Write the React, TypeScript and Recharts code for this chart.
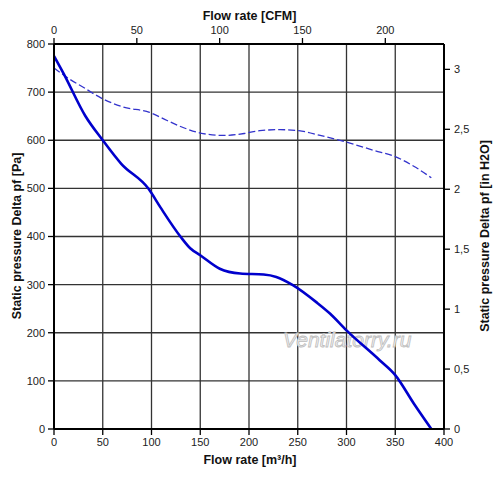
import React from 'react';
import { ComposedChart, Line, XAxis, YAxis, CartesianGrid, Customized } from 'recharts';

const flowTicks = [0, 50, 100, 150, 200, 250, 300, 350, 400];
const cfmTicks = [0, 50, 100, 150, 200];
const paTicks = [0, 100, 200, 300, 400, 500, 600, 700, 800];
const inH2OTicks = [0, 0.5, 1, 1.5, 2, 2.5, 3];

const solidFlow = [0, 10, 32, 50, 69, 97, 109, 130, 140, 150, 170, 191, 215, 228, 245, 270, 283, 300, 334, 350, 369, 387];
const solidPressure = [775, 738, 651, 600, 551, 499, 461, 399, 375, 361, 333, 323, 321, 316, 299, 262, 240, 205, 143, 112, 53, 0];

const dashFlow = [0, 16, 30, 50, 71, 98, 116, 133, 150, 174, 195, 211, 232, 251, 273, 300, 328, 350, 369, 387];
const dashPressure = [750, 727, 710, 686, 669, 658, 641, 626, 615, 610, 614, 620, 622, 620, 610, 596, 579, 566, 546, 522];

const solidData = solidFlow.map((f, i) => ({ flow: f, p: solidPressure[i] }));
const dashData = dashFlow.map((f, i) => ({ flow: f, p: dashPressure[i] }));

const FONT = 'Arial, "Liberation Sans", Helvetica, sans-serif';
const tickStyle = { fontSize: 11, fill: '#222', fontFamily: FONT };

const Titles = () => (
  <g fontFamily={FONT} fontWeight="bold" fontSize={12.5} fill="#111">
    <text x={249.5} y={19.5} textAnchor="middle">Flow rate [CFM]</text>
    <text x={250} y={463.5} textAnchor="middle">Flow rate [m³/h]</text>
    <text x={21} y={236} textAnchor="middle" transform="rotate(-90 21 236)">Static pressure Delta pf [Pa]</text>
    <text x={489} y={236} textAnchor="middle" transform="rotate(-90 489 236)">Static pressure Delta pf [in H2O]</text>
    <text x={283} y={347} fontSize={21} fontStyle="italic" fontWeight="normal" fill="#f2f2f2" stroke="#bdbdbd" strokeWidth={0.8}>Ventilatorry.ru</text>
  </g>
);

export default function App() {
  return (
    <div style={{ position: 'absolute', left: 0, top: 0, width: 500, height: 478, background: '#fff' }}>
      <ComposedChart width={500} height={478} data={solidData} margin={{ top: 0, right: 0, bottom: 0, left: 0 }}>
        <CartesianGrid xAxisId="bottom" yAxisId="left" stroke="#333" strokeWidth={1.3} />
        <XAxis
          xAxisId="bottom"
          dataKey="flow"
          type="number"
          domain={[0, 400]}
          ticks={flowTicks}
          orientation="bottom"
          height={49}
          tickSize={6}
          tickMargin={3}
          tick={tickStyle}
          axisLine={{ stroke: '#000', strokeWidth: 2 }}
          tickLine={{ stroke: '#000', strokeWidth: 1.3 }}
          allowDataOverflow
        />
        <XAxis
          xAxisId="top"
          dataKey="flow"
          type="number"
          domain={[0, 400 * 0.588578]}
          ticks={cfmTicks}
          orientation="top"
          height={44}
          tickSize={6}
          tickMargin={4}
          tick={tickStyle}
          axisLine={{ stroke: '#000', strokeWidth: 2 }}
          tickLine={{ stroke: '#000', strokeWidth: 1.3 }}
          allowDataOverflow
        />
        <YAxis
          yAxisId="left"
          type="number"
          domain={[0, 800]}
          ticks={paTicks}
          orientation="left"
          width={54}
          tickSize={6}
          tickMargin={3}
          tick={tickStyle}
          axisLine={{ stroke: '#000', strokeWidth: 2 }}
          tickLine={{ stroke: '#000', strokeWidth: 1.3 }}
          allowDataOverflow
        />
        <YAxis
          yAxisId="right"
          type="number"
          domain={[0, 800 / 249.0889]}
          ticks={inH2OTicks}
          orientation="right"
          width={56}
          tickSize={6}
          tickMargin={4}
          tick={tickStyle}
          tickFormatter={(v: number) => String(v).replace('.', ',')}
          axisLine={{ stroke: '#000', strokeWidth: 2 }}
          tickLine={{ stroke: '#000', strokeWidth: 1.3 }}
          allowDataOverflow
        />
        <Line
          xAxisId="bottom"
          yAxisId="left"
          data={dashData}
          dataKey="p"
          type="monotone"
          stroke="#3333cc"
          strokeWidth={1.3}
          strokeDasharray="7 3"
          dot={false}
          activeDot={false}
          isAnimationActive={false}
        />
        <Line
          xAxisId="bottom"
          yAxisId="left"
          data={solidData}
          dataKey="p"
          type="monotone"
          stroke="#0000cc"
          strokeWidth={2.6}
          dot={false}
          activeDot={false}
          isAnimationActive={false}
        />
        <Customized component={Titles} />
      </ComposedChart>
    </div>
  );
}
